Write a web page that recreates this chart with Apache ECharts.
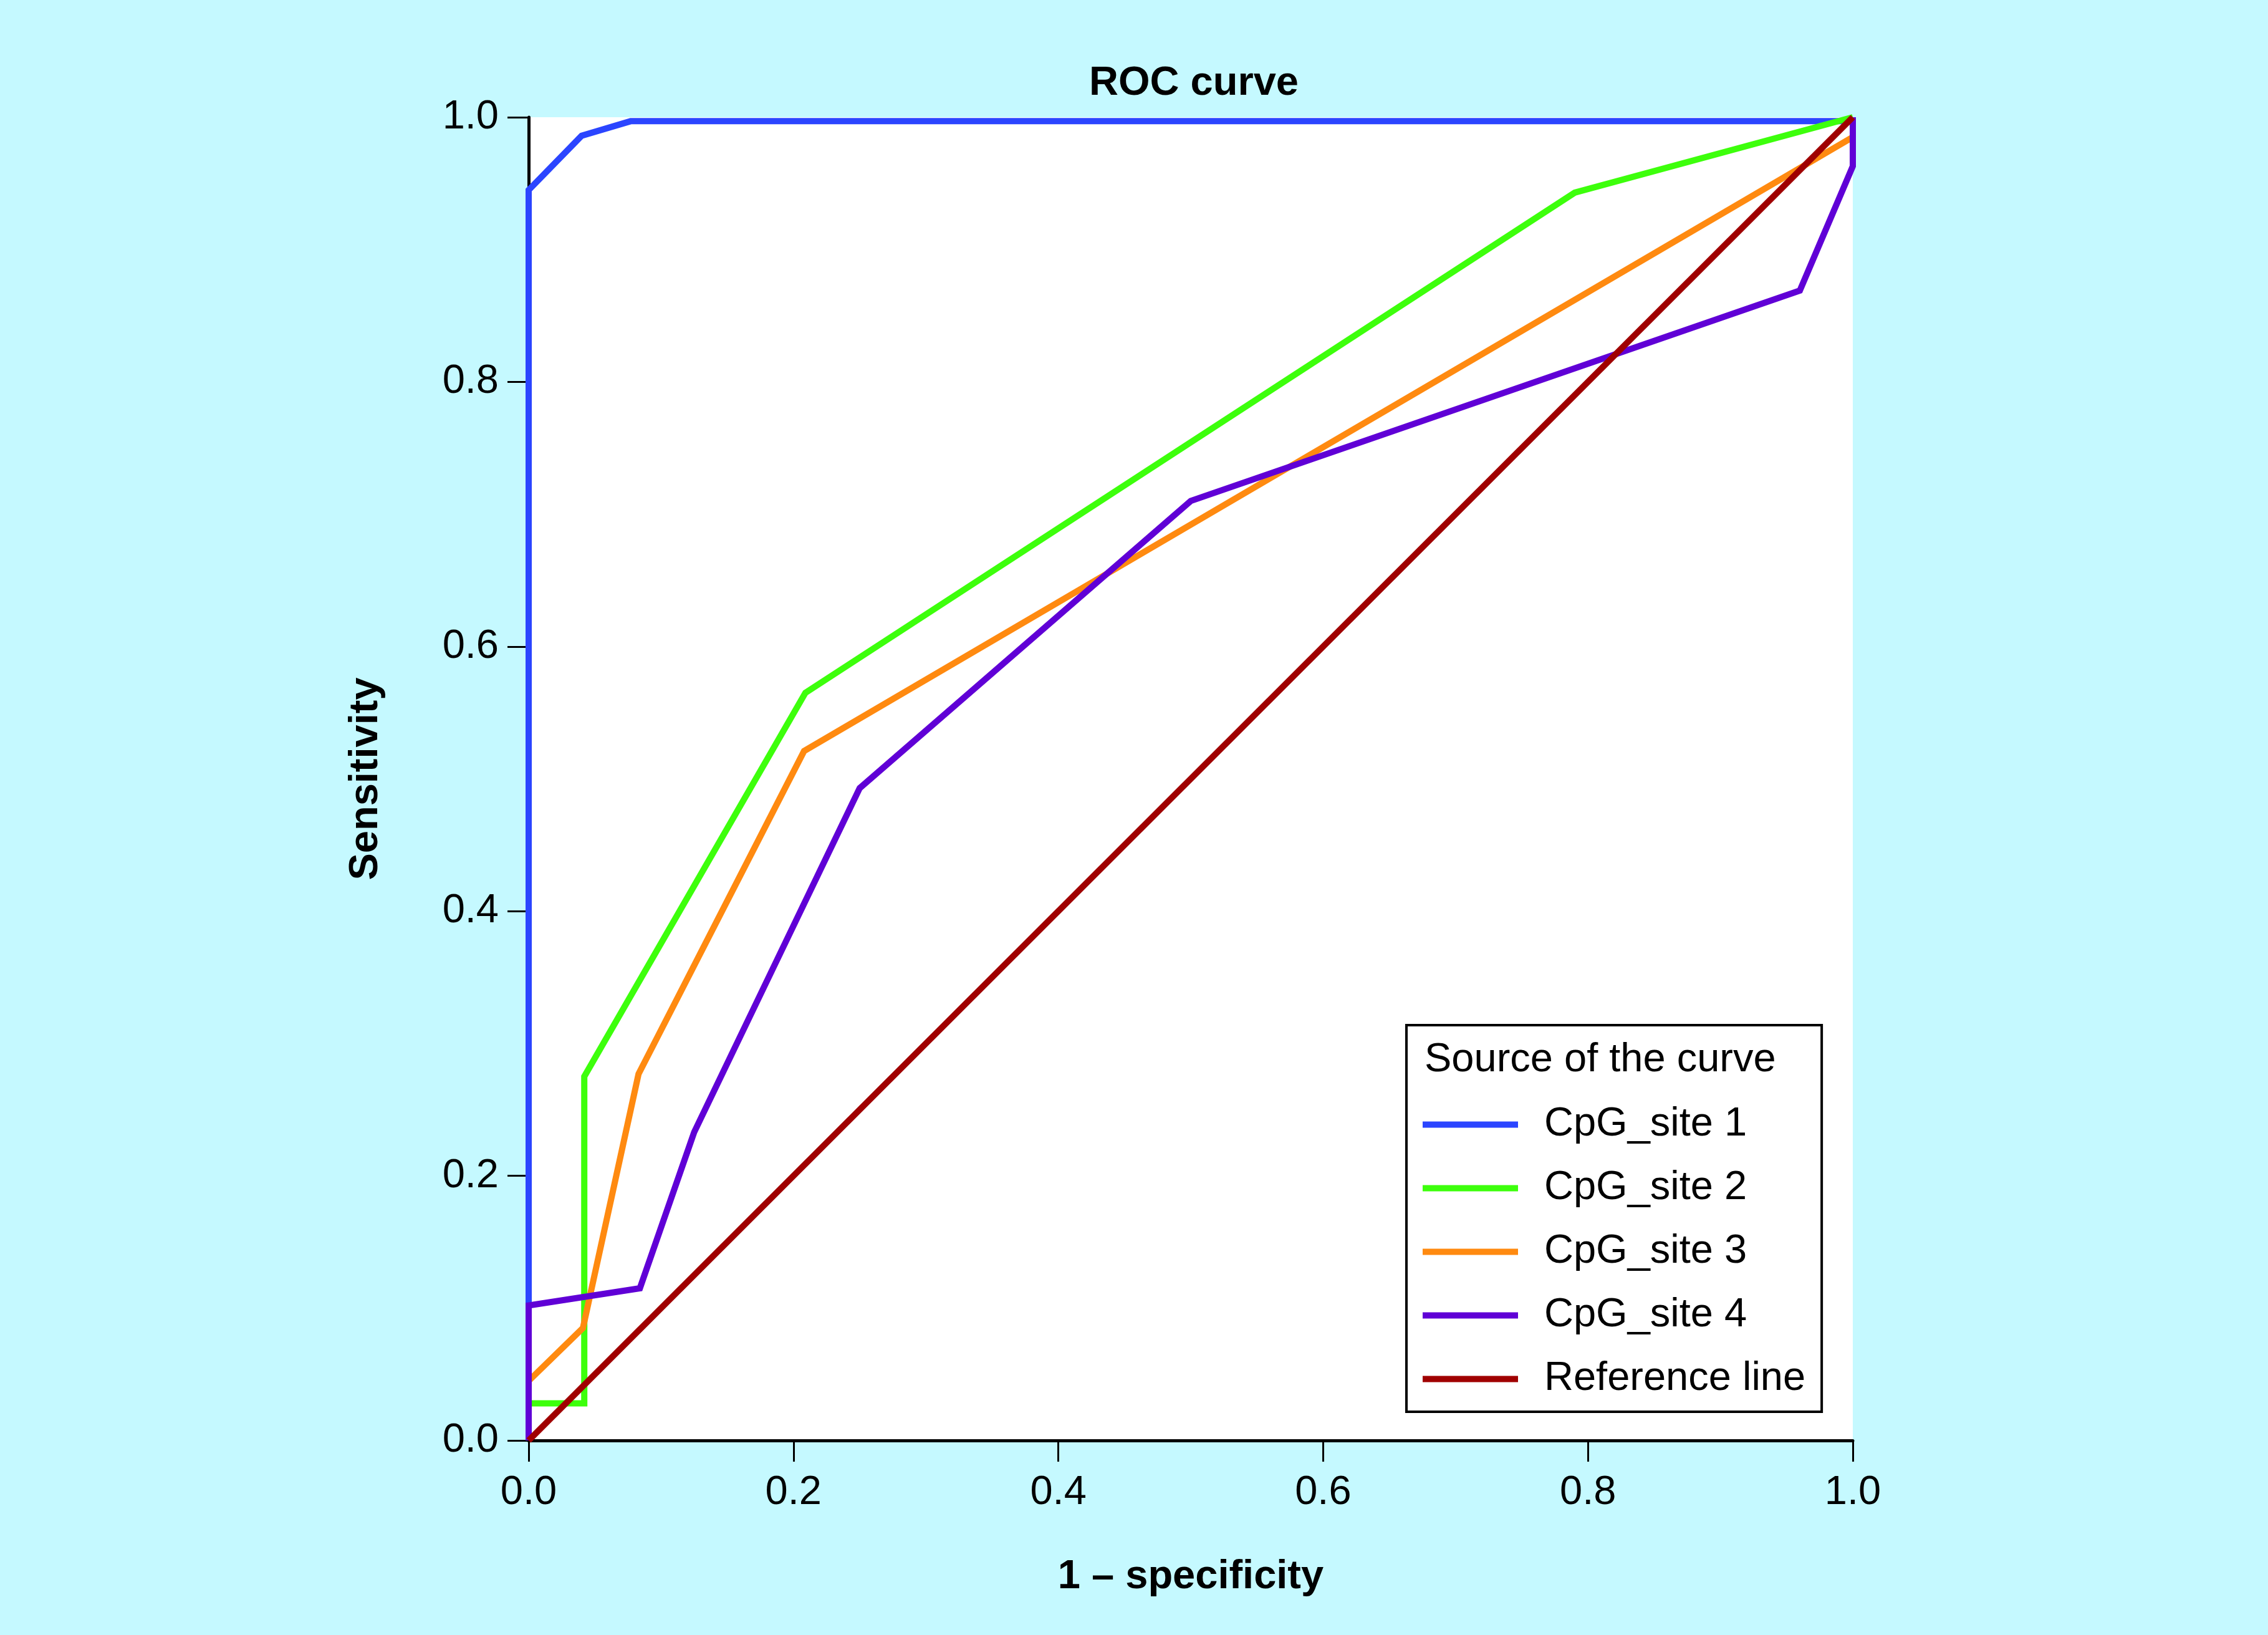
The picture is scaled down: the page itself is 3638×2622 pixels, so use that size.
<!DOCTYPE html>
<html>
<head>
<meta charset="utf-8">
<style>
html,body{margin:0;padding:0;background:#c5f9ff;}
#chart{width:3638px;height:2622px;}
</style>
<script src="https://cdn.jsdelivr.net/npm/echarts@6/dist/echarts.min.js"></script>
</head>
<body>
<div id="chart"></div>
<script>
// ---- data ----
var seriesNames = ['CpG_site 1', 'CpG_site 2', 'CpG_site 3', 'CpG_site 4', 'Reference line'];
var site1 = [[0, 0], [0, 0.945], [0.04, 0.986], [0.077, 0.997], [1, 0.997], [1, 1]];
var site2 = [[0, 0], [0, 0.028], [0.042, 0.028], [0.042, 0.275], [0.209, 0.565], [0.79, 0.943], [1, 1]];
var site3 = [[0, 0], [0, 0.045], [0.041, 0.085], [0.083, 0.277], [0.208, 0.521], [1, 0.985], [1, 1]];
var site4 = [[0, 0], [0, 0.102], [0.084, 0.115], [0.125, 0.233], [0.25, 0.493], [0.5, 0.71], [0.96, 0.869], [1, 0.963], [1, 1]];
var refLine = [[0, 0], [1, 1]];
var xTicks = [0, 0.2, 0.4, 0.6, 0.8, 1.0];
var yTicks = [0, 0.2, 0.4, 0.6, 0.8, 1.0];
var colors = ['#2b45ff', '#3dff0c', '#ff8a10', '#6000d6', '#a00000'];

var FONT = 'Liberation Sans, Arial, Helvetica, sans-serif';
var chart = echarts.init(document.getElementById('chart'), null, {renderer: 'canvas'});

function mk(name, data, color) {
  return {
    name: name, type: 'line', data: data, showSymbol: false, symbol: 'none',
    lineStyle: {color: color, width: 10, join: 'miter'}, itemStyle: {color: color},
    animation: false, clip: true
  };
}

var axisCommon = {
  type: 'value', min: 0, max: 1, interval: 0.2,
  splitLine: {show: false},
  axisLine: {show: true, lineStyle: {color: '#000', width: 5}},
  axisTick: {show: true, inside: false, length: 34, lineStyle: {color: '#000', width: 3}},
  nameLocation: 'middle',
  nameTextStyle: {fontFamily: FONT, fontSize: 65, fontWeight: 'bold', color: '#000'}
};

chart.setOption({
  backgroundColor: '#c5f9ff',
  animation: false,
  title: {
    text: 'ROC curve', left: 1910, top: 97, textAlign: 'center',
    textStyle: {fontFamily: FONT, fontSize: 65, fontWeight: 'bold', color: '#000'}
  },
  grid: {
    left: 848, top: 188, right: 666, bottom: 312, show: true,
    backgroundColor: '#ffffff', borderWidth: 0
  },
  xAxis: Object.assign({}, axisCommon, {
    name: '1 \u2013 specificity', nameGap: 187,
    axisLabel: {fontFamily: FONT, fontSize: 65, color: '#000', margin: 52,
      formatter: function (v) { return v.toFixed(1); }}
  }),
  yAxis: Object.assign({}, axisCommon, {
    name: 'Sensitivity', nameGap: 228,
    axisLabel: {fontFamily: FONT, fontSize: 65, color: '#000', margin: 48,
      formatter: function (v) { return v.toFixed(1); }}
  }),
  legend: {
    orient: 'vertical', left: 2256, top: 1644,
    data: seriesNames,
    icon: 'rect', itemWidth: 153, itemHeight: 10, itemGap: 37,
    backgroundColor: '#ffffff', borderColor: '#000', borderWidth: 4,
    padding: [127, 26, 20, 26],
    selectedMode: false,
    textStyle: {fontFamily: FONT, fontSize: 65, color: '#000', lineHeight: 65, padding: [0, 0, 0, 37]}
  },
  graphic: [{
    type: 'text', left: 2285, top: 1668, z: 100,
    style: {text: 'Source of the curve', fill: '#000', font: '65px ' + FONT}
  }],
  series: [
    mk(seriesNames[0], site1, colors[0]),
    mk(seriesNames[1], site2, colors[1]),
    mk(seriesNames[2], site3, colors[2]),
    mk(seriesNames[3], site4, colors[3]),
    mk(seriesNames[4], refLine, colors[4])
  ]
});
</script>
</body>
</html>
